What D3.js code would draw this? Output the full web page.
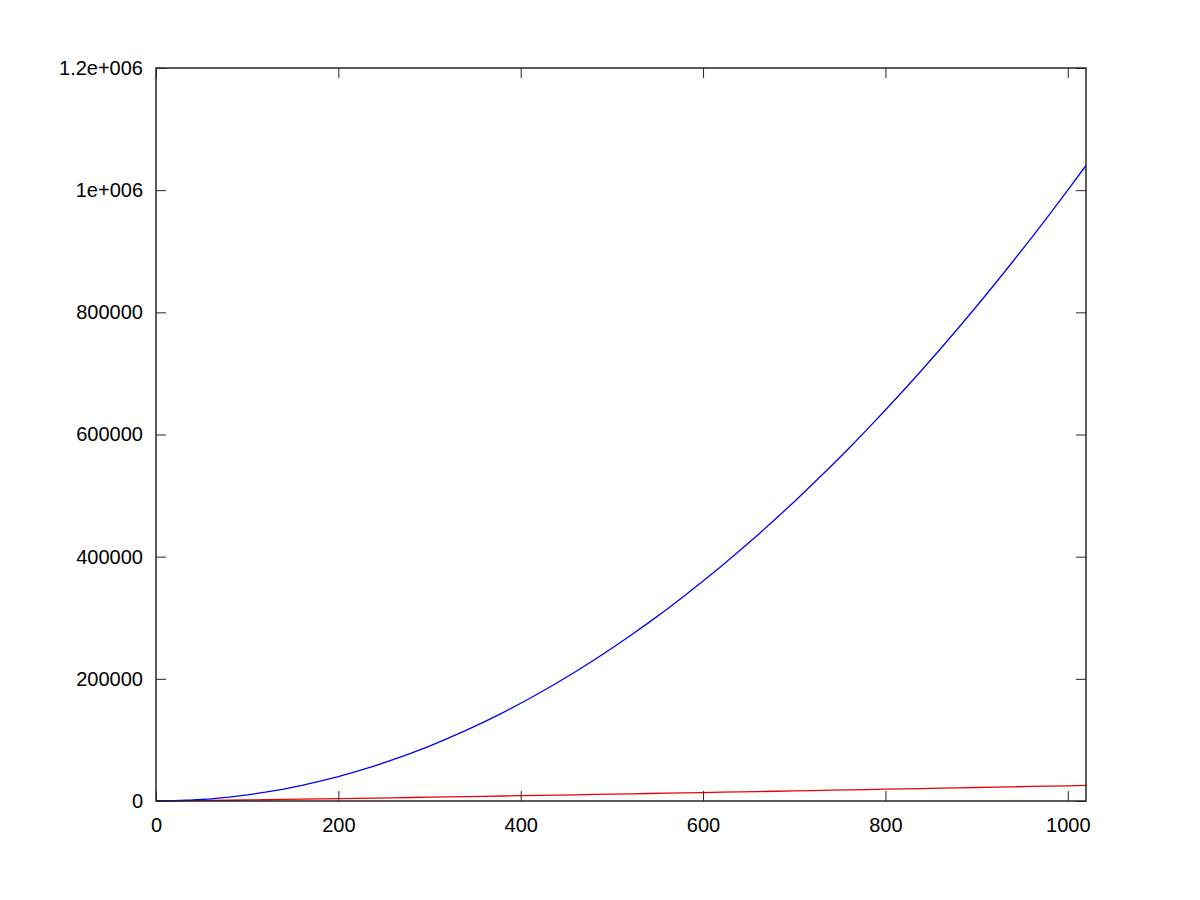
<!DOCTYPE html>
<html>
<head>
<meta charset="utf-8">
<script src="https://cdn.jsdelivr.net/npm/d3@7"></script>
<style>
  html, body { margin: 0; padding: 0; background: #ffffff; }
  svg { display: block; }
  text { font-family: "Liberation Sans", Arial, Helvetica, sans-serif; }
</style>
</head>
<body>
<svg id="chart" width="1200" height="900"></svg>
<script>
// ---- data ----
const xValues = [0,20,40,60,80,100,120,140,160,180,200,220,240,260,280,300,320,340,360,380,400,420,440,460,480,500,520,540,560,580,600,620,640,660,680,700,720,740,760,780,800,820,840,860,880,900,920,940,960,980,1000,1020];
const blueValues = [0,400,1600,3600,6400,10000,14400,19600,25600,32400,40000,48400,57600,67600,78400,90000,102400,115600,129600,144400,160000,176400,193600,211600,230400,250000,270400,291600,313600,336400,360000,384400,409600,435600,462400,490000,518400,547600,577600,608400,640000,672400,705600,739600,774400,810000,846400,883600,921600,960400,1000000,1040400];
const redValues = [0,220,530,890,1260,1670,2070,2500,2930,3380,3820,4290,4740,5220,5690,6180,6650,7150,7640,8150,8640,9150,9650,10180,10690,11210,11720,12260,12780,13320,13840,14390,14910,15470,15990,16540,17080,17640,18180,18750,19280,19850,20390,20970,21510,22080,22650,23220,23780,24360,24910,25480];
const xTicks = [0,200,400,600,800,1000];
const yTicks = [0,200000,400000,600000,800000,1000000,1200000];
const yTickLabels = ["0","200000","400000","600000","800000","1e+006","1.2e+006"];
const xDomain = [0, 1020];
const yDomain = [0, 1200000];

// ---- layout ----
const plotLeft = 156, plotRight = 1086, plotTop = 68, plotBottom = 801;
const svg = d3.select("#chart");
const x = d3.scaleLinear().domain(xDomain).range([plotLeft, plotRight]);
const y = d3.scaleLinear().domain(yDomain).range([plotBottom, plotTop]);
const tickLen = 10;

// curves
const line = d3.line().x((d, i) => x(xValues[i])).y(d => y(d));
svg.append("path").datum(redValues).attr("d", line)
  .attr("fill", "none").attr("stroke", "#ee0000").attr("stroke-width", 1.3);
svg.append("path").datum(blueValues).attr("d", line)
  .attr("fill", "none").attr("stroke", "#0000ee").attr("stroke-width", 1.3);

// axes (ticks inward, mirrored)
const axisColor = "#262626";
const bottomAxis = d3.axisBottom(x).tickValues(xTicks).tickSize(-tickLen).tickPadding(17).tickFormat(d3.format("d"));
const topAxis = d3.axisTop(x).tickValues(xTicks).tickSize(-tickLen).tickFormat("");
const leftAxis = d3.axisLeft(y).tickValues(yTicks).tickSize(-tickLen).tickPadding(13).tickFormat((d, i) => yTickLabels[i]);
const rightAxis = d3.axisRight(y).tickValues(yTicks).tickSize(-tickLen).tickFormat("");

function style(g) {
  g.select(".domain").remove();
  g.selectAll(".tick line").attr("stroke", axisColor).attr("stroke-width", 1);
  g.selectAll(".tick text").attr("fill", "#000").style("font-size", "20px");
}
svg.append("g").attr("transform", `translate(0,${plotBottom})`).call(bottomAxis).call(style);
svg.append("g").attr("transform", `translate(0,${plotTop})`).call(topAxis).call(style);
svg.append("g").attr("transform", `translate(${plotLeft},0)`).call(leftAxis).call(style);
svg.append("g").attr("transform", `translate(${plotRight},0)`).call(rightAxis).call(style);

// frame
svg.append("rect").attr("x", plotLeft).attr("y", plotTop).attr("width", plotRight - plotLeft).attr("height", plotBottom - plotTop)
  .attr("fill", "none").attr("stroke", axisColor).attr("stroke-width", 1.5);
</script>
</body>
</html>
